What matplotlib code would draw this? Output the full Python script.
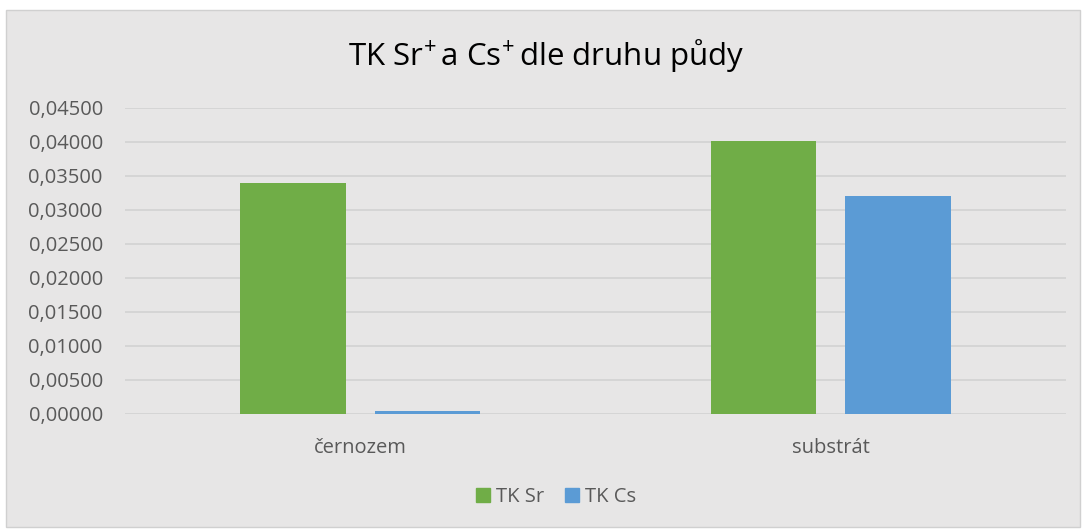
import matplotlib
matplotlib.use("Agg")
import matplotlib.pyplot as plt
from matplotlib.patches import Rectangle, Patch
from matplotlib.ticker import FuncFormatter
import numpy as np

categories = ["černozem", "substrát"]
tk_sr = [0.0340, 0.0401]
tk_cs = [0.0004, 0.0320]
series_labels = ["TK Sr", "TK Cs"]
title = r"TK Sr$^{\!+}$a Cs$^{\!+}$dle druhu půdy"

green = "#70AD47"
blue = "#5B9BD5"
bg = "#E7E6E6"
text_col = "#595959"

plt.rcParams["font.family"] = ["Open Sans", "DejaVu Sans"]
plt.rcParams["mathtext.fontset"] = "custom"
plt.rcParams["mathtext.rm"] = "Open Sans"
plt.rcParams["mathtext.it"] = "Open Sans"
plt.rcParams["mathtext.bf"] = "Open Sans:bold"
plt.rcParams["mathtext.default"] = "regular"

W, H = 1086, 530
fig = plt.figure(figsize=(W / 100, H / 100), dpi=100)
fig.patch.set_facecolor("white")
fig.patches.append(Rectangle((6 / W, 3 / H), (W - 12) / W, (H - 13) / H,
                             transform=fig.transFigure, facecolor=bg,
                             edgecolor="#D0D0D0", linewidth=1, zorder=-5))

ax = fig.add_axes([125 / W, (H - 414) / H, (1066 - 125) / W, (414 - 108) / H])
ax.set_zorder(2)
ax.patch.set_alpha(0)

x = np.arange(len(categories))
bw = 0.224
off = 0.1426
ax.bar(x - off, tk_sr, bw, color=green, zorder=3)
ax.bar(x + off, tk_cs, bw, color=blue, zorder=3)

ax.set_xlim(-0.5, 1.5)
ax.set_ylim(0, 0.045)
ax.set_yticks(np.arange(0, 0.04501, 0.005))
ax.yaxis.set_major_formatter(FuncFormatter(lambda v, p: f"{v:.5f}".replace(".", ",")))
ax.grid(axis="y", color="#D4D4D4", linewidth=1.3, zorder=0)
ax.set_axisbelow(True)
for s in ax.spines.values():
    s.set_visible(False)
ax.tick_params(axis="both", length=0, labelsize=14.5, labelcolor=text_col)
ax.tick_params(axis="y", pad=16)
ax.set_xticks(x)
ax.set_xticklabels(categories)
ax.tick_params(axis="x", pad=17)

fig.text(546 / W, 1 - 55 / H, title, ha="center", va="center",
         fontsize=22.5, color="black")

handles = [Patch(color=green), Patch(color=blue)]
fig.legend(handles, series_labels, loc="center", bbox_to_anchor=(556 / W, 1 - 497 / H),
           ncol=2, frameon=False, fontsize=14.5, labelcolor=text_col,
           handlelength=0.7, handleheight=0.7, handletextpad=0.3, columnspacing=1.0)

fig.savefig("out.png", dpi=100, facecolor=fig.get_facecolor())
